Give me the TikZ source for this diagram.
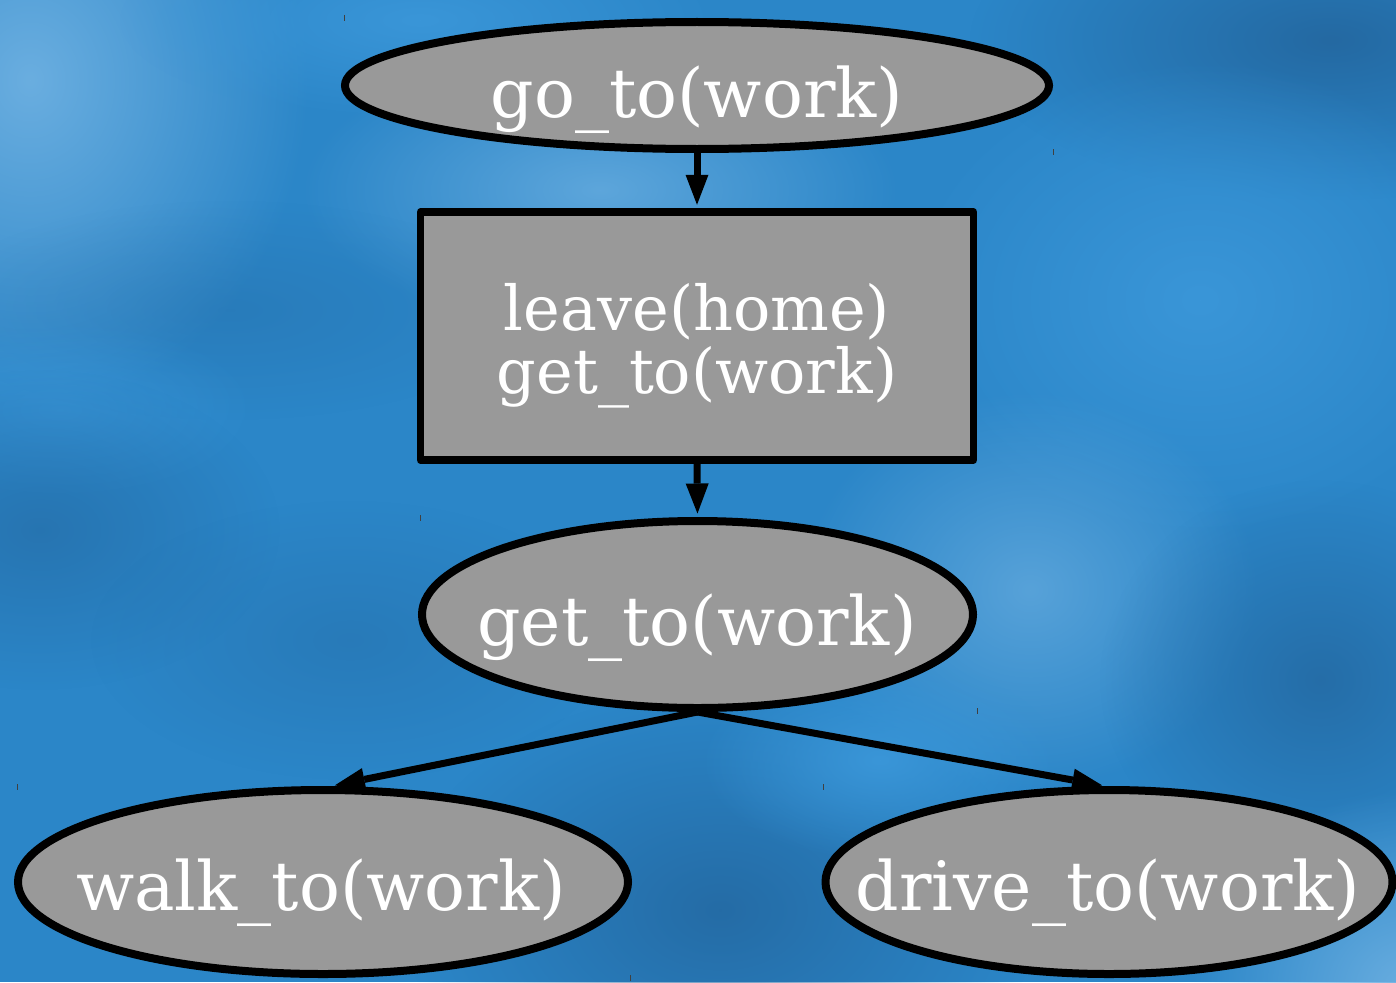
\documentclass[tikz,border=0pt]{standalone}
\usepackage{fontspec}
\setmainfont{DejaVu Serif}
\usetikzlibrary{shapes.geometric,arrows.meta,fadings}

\definecolor{skybase}{HTML}{2B86C8}
\definecolor{skylight}{HTML}{6AAEE0}
\definecolor{skymid}{HTML}{3A96D8}
\definecolor{skydark}{HTML}{2469A2}
\definecolor{nodegray}{HTML}{999999}

\tikzfading[name=blobfade, inner color=transparent!0, outer color=transparent!100]

\tikzset{
  oval/.style={ellipse, draw=black, fill=nodegray, line width=8pt, inner sep=0pt},
  goalbox/.style={rectangle, draw=black, fill=nodegray, line width=7.5pt,
    line join=round, inner sep=0pt},
  lbl/.style={text=white, inner sep=0pt, anchor=base},
  bigtxt/.style={font=\fontsize{68}{80}\selectfont},
  boxtxt/.style={font=\fontsize{62}{63}\selectfont},
  edge/.style={draw=black, line width=7pt,
    -{Triangle[length=30pt,width=23pt,line width=0pt]}, shorten >=3.5pt},
  blob/.style={path fading=blobfade},
  tick/.style={draw=black!75, line width=1pt}
}

\begin{document}
\begin{tikzpicture}[x=1pt,y=-1pt]
  % sky background
  \fill[skybase] (0,0) rectangle (1396,982);
  \useasboundingbox (0,0) rectangle (1396,982);
  \begin{scope}
    \clip (0,0) rectangle (1396,982);
    \fill[skylight, blob] (30,80) ellipse (280pt and 330pt);
    \fill[skylight, opacity=0.8, blob] (600,190) ellipse (300pt and 140pt);
    \fill[skymid, blob] (420,20) ellipse (300pt and 100pt);
    \fill[skydark, blob] (1330,40) ellipse (360pt and 160pt);
    \fill[skymid, blob] (1200,300) ellipse (300pt and 240pt);
    \fill[skydark, opacity=0.35, blob] (230,310) ellipse (300pt and 110pt);
    \fill[skymid, opacity=0.7, blob] (60,410) ellipse (200pt and 90pt);
    \fill[skydark, opacity=0.6, blob] (40,530) ellipse (240pt and 160pt);
    \fill[skylight, opacity=0.7, blob] (1030,590) ellipse (230pt and 200pt);
    \fill[skydark, opacity=0.85, blob] (1320,680) ellipse (220pt and 200pt);
    \fill[skydark, opacity=0.9, blob] (720,910) ellipse (320pt and 220pt);
    \fill[skymid, blob] (880,760) ellipse (180pt and 100pt);
    \fill[skylight, blob] (1410,990) ellipse (220pt and 200pt);
    \fill[skydark, opacity=0.4, blob] (350,640) ellipse (260pt and 140pt);
  \end{scope}

  % small marks
  \draw[tick] (344,15) -- (344,21);
  \draw[tick] (1053,149) -- (1053,155);
  \draw[tick] (420,515) -- (420,521);
  \draw[tick] (977,708) -- (977,714);
  \draw[tick] (17,784) -- (17,790);
  \draw[tick] (823,784) -- (823,790);
  \draw[tick] (630,975) -- (630,981);

  % nodes
  \node[oval, minimum width=704pt, minimum height=127pt] (go) at (697,85.5) {};
  \node[goalbox, minimum width=553pt, minimum height=248pt] (plan) at (697,336) {};
  \node[oval, minimum width=551pt, minimum height=187pt] (get) at (697.5,614.5) {};
  \node[oval, minimum width=610pt, minimum height=184pt] (walk) at (323,882) {};
  \node[oval, minimum width=567pt, minimum height=184pt] (drive) at (1109,882) {};

  % labels
  \node[lbl, bigtxt] (goT) at (697,117) {go\_to(work)};
  \node[lbl, boxtxt] (leaveT) at (697,330) {leave(home)};
  \node[lbl, boxtxt] (plangetT) at (697,393) {get\_to(work)};
  \node[lbl, bigtxt] (getT) at (697,645) {get\_to(work)};
  \node[lbl, bigtxt] (walkT) at (321,910) {walk\_to(work)};
  \node[lbl, bigtxt] (driveT) at (1108,910) {drive\_to(work)};

  % connectors
  \draw[edge] (go.south) -- (plan.north);
  \draw[edge] (plan.south) -- (get.north);
  \draw[edge] (get.south) -- (walk.85.7);
  \draw[edge] (get.south) -- (drive.92.5);
\end{tikzpicture}
\end{document}
